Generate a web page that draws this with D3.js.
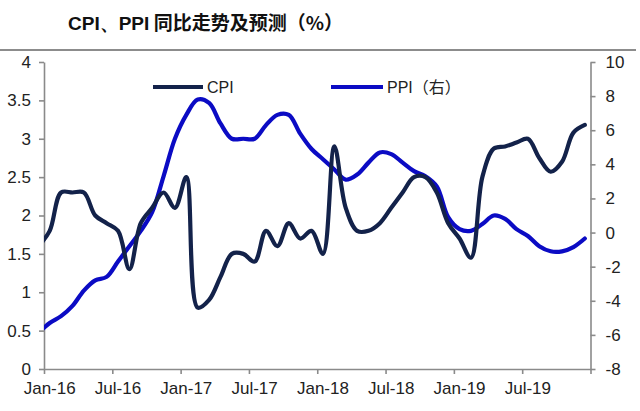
<!DOCTYPE html>
<html><head><meta charset="utf-8">
<script src="https://cdn.jsdelivr.net/npm/d3@7"></script>
<style>
html,body{margin:0;padding:0;background:#fff;}
svg{display:block;}
</style></head>
<body>
<svg id="chart" width="640" height="411"></svg>
<script>
// Months Dec-15 .. Dec-19 (Dec-15 sits just left of the plot and is clipped)
const months = d3.timeMonth.range(new Date(2015, 11, 1), new Date(2020, 0, 1));
const cpi = [1.6,
  1.8, 2.3, 2.3, 2.3, 2.0, 1.9, 1.8, 1.3, 1.9, 2.1, 2.3, 2.1,
  2.5, 0.8, 0.9, 1.2, 1.5, 1.5, 1.4, 1.8, 1.6, 1.9, 1.7, 1.8,
  1.5, 2.9, 2.1, 1.8, 1.8, 1.9, 2.1, 2.3, 2.5, 2.5, 2.3, 1.9,
  1.7, 1.45, 2.5, 2.87, 2.9, 2.95, 3.0, 2.75, 2.57, 2.7, 3.08, 3.18];
const ppi = [-5.9,
  -5.3, -4.9, -4.3, -3.4, -2.8, -2.6, -1.7, -0.8, 0.1, 1.2, 3.3, 5.5,
  6.9, 7.8, 7.6, 6.4, 5.5, 5.5, 5.5, 6.3, 6.9, 6.9, 5.8, 4.9,
  4.3, 3.7, 3.1, 3.4, 4.1, 4.7, 4.6, 4.1, 3.6, 3.3, 2.7, 0.9,
  0.2, 0.1, 0.5, 1.0, 0.8, 0.2, -0.2, -0.8, -1.1, -1.1, -0.85, -0.35];
const xTickLabels = ["Jan-16","Jul-16","Jan-17","Jul-17","Jan-18","Jul-18","Jan-19","Jul-19"];
const leftTicks = [0, 0.5, 1, 1.5, 2, 2.5, 3, 3.5, 4];
const rightTicks = [-8, -6, -4, -2, 0, 2, 4, 6, 8, 10];
const titleText = ["CPI、PPI", " 同比走势及预测（%）"];
const legendNames = ["CPI", "PPI（右）"];

const svg = d3.select("#chart");
const L = 44, R = 590.5, T = 62, B = 369;
const axisColor = "#8a8a8a";
const cpiColor = "#13224a";
const ppiColor = "#0b0bc4";
const font = "'Liberation Sans', Arial, sans-serif";

// Title
const title = svg.append("text").attr("x", 68).attr("y", 30)
  .attr("font-size", 19).attr("font-weight", "bold").attr("fill", "#111");
title.append("tspan").attr("font-family", font).text(titleText[0]);
title.append("tspan").attr("font-family", "'Noto Sans CJK SC', sans-serif").text(titleText[1]);
svg.append("line").attr("x1", 0).attr("x2", 636).attr("y1", 50).attr("y2", 50)
  .attr("stroke", "#8c8c8c").attr("stroke-width", 2);

// Scales
const x = d3.scaleLinear().domain([0, 48]).range([L, R]);
const yL = d3.scaleLinear().domain([0, 4]).range([B, T]);
const yR = d3.scaleLinear().domain([-8, 10]).range([B, T]);
const idx = i => x(i - 1 + 0.5); // i=0 -> Dec-15

svg.append("defs").append("clipPath").attr("id", "plot")
  .append("rect").attr("x", L).attr("y", 40).attr("width", R - L).attr("height", B - 40 + 10);

// Axes
function styleAxis(g) {
  g.selectAll("path,line").attr("stroke", axisColor).attr("stroke-width", 1.6);
  g.selectAll("text").attr("font-family", font).attr("font-size", 17).attr("fill", "#222");
}
svg.append("g").attr("transform", `translate(${L},0)`)
  .call(d3.axisLeft(yL).tickValues(leftTicks).tickSize(5).tickSizeOuter(0).tickPadding(8)
    .tickFormat(d => String(d)))
  .call(styleAxis);
svg.append("g").attr("transform", `translate(${R},0)`)
  .call(d3.axisRight(yR).tickValues(rightTicks).tickSize(5).tickSizeOuter(0).tickPadding(10)
    .tickFormat(d => String(d)))
  .call(styleAxis);
svg.append("g").attr("transform", `translate(0,${B})`)
  .call(d3.axisBottom(x).tickValues(d3.range(0, 49, 6)).tickSize(5).tickSizeOuter(0).tickFormat(""))
  .call(styleAxis);
// Category labels centred on the January / July categories
const xl = svg.append("g").attr("font-family", font).attr("font-size", 17).attr("fill", "#222");
xl.selectAll("text").data(xTickLabels).join("text")
  .attr("x", (d, i) => x(i * 6 + 0.5)).attr("y", B + 25).attr("text-anchor", "middle").text(d => d);

// Lines
const curve = d3.curveCatmullRom.alpha(0.5);
const plot = svg.append("g").attr("clip-path", "url(#plot)");
plot.append("path").datum(ppi)
  .attr("d", d3.line().x((d, i) => idx(i)).y(d => yR(d)).curve(curve))
  .attr("fill", "none").attr("stroke", ppiColor).attr("stroke-width", 4.2)
  .attr("stroke-linejoin", "round").attr("stroke-linecap", "round");
plot.append("path").datum(cpi)
  .attr("d", d3.line().x((d, i) => idx(i)).y(d => yL(d)).curve(curve))
  .attr("fill", "none").attr("stroke", cpiColor).attr("stroke-width", 4.2)
  .attr("stroke-linejoin", "round").attr("stroke-linecap", "round");

// Legend
const legend = [
  {name: legendNames[0], color: cpiColor, x1: 153, x2: 203},
  {name: legendNames[1], color: ppiColor, x1: 331, x2: 383}
];
const lg = svg.append("g");
legend.forEach(d => {
  lg.append("line").attr("x1", d.x1).attr("x2", d.x2).attr("y1", 87).attr("y2", 87)
    .attr("stroke", d.color).attr("stroke-width", 4.2);
  lg.append("text").attr("x", d.x2 + 4).attr("y", 93).attr("font-family", font + ", 'Noto Sans CJK SC'")
    .attr("font-size", 16).attr("fill", "#222").text(d.name);
});
</script>
</body></html>
